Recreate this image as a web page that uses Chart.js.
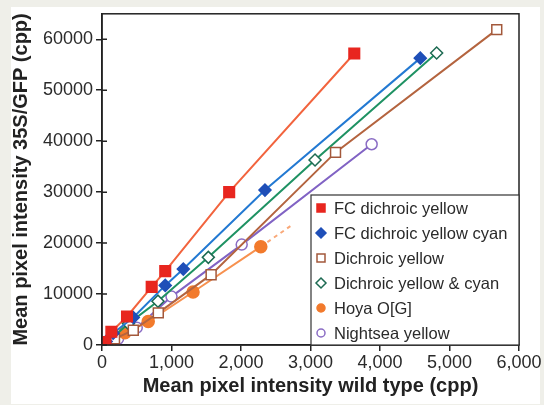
<!DOCTYPE html>
<html>
<head>
<meta charset="utf-8">
<script src="https://cdn.jsdelivr.net/npm/chart.js"></script>
<style>
    html, body { margin: 0; padding: 0; background: #efefe9; }
    #panel { position: absolute; left: 11px; top: 7px; width: 529px; height: 397px; background: #ffffff; }
    #wrap { position: absolute; left: 0; top: 0; width: 544px; height: 405px; }
</style>
</head>
<body>
<div id="panel"></div>
<div id="wrap"><canvas id="chart" width="544" height="405"></canvas></div>
<script>
// 데이터
const fcYellowX = [50, 135, 360, 715, 910, 1830, 3630];
const fcYellowY = [600, 2600, 5600, 11400, 14500, 30000, 57200];

const fcYellowCyanX = [60, 160, 450, 910, 1170, 2345, 4580];
const fcYellowCyanY = [700, 2300, 5400, 11700, 14900, 30400, 56300];

const dichroicYellowX = [50, 180, 450, 810, 1570, 3360, 5680];
const dichroicYellowY = [400, 1200, 2900, 6300, 13800, 37800, 61900];

const dichroicYCX = [40, 150, 380, 805, 1530, 3065, 4815];
const dichroicYCY = [400, 1400, 4200, 8600, 17200, 36300, 57300];

const hoyaX = [30, 120, 330, 665, 1310, 2285];
const hoyaY = [300, 900, 2400, 4600, 10400, 19300];
const hoyaTrendX = [2285, 2750];
const hoyaTrendY = [19300, 23700];

const nightseaX = [40, 230, 500, 1000, 2010, 3880];
const nightseaY = [300, 1200, 3400, 9500, 19700, 39400];

const xTicks = [0, 1000, 2000, 3000, 4000, 5000, 6000];
const yTicks = [0, 10000, 20000, 30000, 40000, 50000, 60000];

const toPoints = (xs, ys) => xs.map((x, i) => ({ x: x, y: ys[i] }));

const FONT = "'Liberation Sans', Arial, sans-serif";

function series(label, xs, ys, line, marker, fill, style, radius) {
    return {
        label: label,
        data: toPoints(xs, ys),
        showLine: true,
        borderColor: line,
        borderWidth: 2,
        pointStyle: style,
        pointRadius: radius,
        pointBorderColor: marker,
        pointBackgroundColor: fill,
        pointBorderWidth: 1.5,
        markerColor: marker,
        markerFill: fill
    };
}

const datasets = [
    series('FC dichroic yellow', fcYellowX, fcYellowY, '#f2643e', '#e8261f', '#e8261f', 'rect', 7.5),
    series('FC dichroic yellow cyan', fcYellowCyanX, fcYellowCyanY, '#2379d2', '#1f4fb8', '#1f4fb8', 'rectRot', 6),
    series('Dichroic yellow', dichroicYellowX, dichroicYellowY, '#b4643f', '#a3583b', '#ffffff', 'rect', 7),
    series('Dichroic yellow & cyan', dichroicYCX, dichroicYCY, '#1f9263', '#1d6a52', '#ffffff', 'rectRot', 6),
    series('Hoya O[G]', hoyaX, hoyaY, '#f7914f', '#f27a2c', '#f27a2c', 'circle', 6),
    series('Nightsea yellow', nightseaX, nightseaY, '#8163c4', '#8a6cc4', '#ffffff', 'circle', 5.5),
    {
        label: 'hoya trend',
        data: toPoints(hoyaTrendX, hoyaTrendY),
        showLine: true,
        borderColor: '#f9a878',
        borderWidth: 2,
        borderDash: [4, 4],
        pointRadius: 0,
        hideInLegend: true
    }
];

// 안쪽 눈금, 테두리, 범례
const decorPlugin = {
    id: 'decor',
    afterDraw(chart) {
        const ctx = chart.ctx;
        const a = chart.chartArea;
        const ys = chart.scales.y;
        ctx.save();
        ctx.strokeStyle = '#222';
        ctx.lineWidth = 1.5;
        ctx.strokeRect(a.left, a.top, a.right - a.left, a.bottom - a.top);
        ctx.beginPath();
        yTicks.forEach(v => {
            const p = ys.getPixelForValue(v);
            ctx.moveTo(a.left, p);
            ctx.lineTo(a.left + 5, p);
        });
        ctx.stroke();

        // 범례 박스
        const w = 208, h = 150;
        const lx = a.right - w, ly = a.bottom - h;
        ctx.fillStyle = '#ffffff';
        ctx.fillRect(lx, ly, w, h);
        ctx.strokeStyle = '#333';
        ctx.lineWidth = 1.2;
        ctx.strokeRect(lx, ly, w, h);
        ctx.font = '16.5px ' + FONT;
        ctx.textBaseline = 'middle';
        let row = 0;
        chart.data.datasets.forEach(ds => {
            if (ds.hideInLegend) return;
            const cx = lx + 10;
            const cy = ly + 13 + row * 25;
            ctx.fillStyle = ds.markerFill;
            ctx.strokeStyle = ds.markerColor;
            ctx.lineWidth = 1.5;
            ctx.beginPath();
            if (ds.pointStyle === 'circle') {
                ctx.arc(cx, cy, 4, 0, Math.PI * 2);
            } else if (ds.pointStyle === 'rect') {
                ctx.rect(cx - 4, cy - 4, 8, 8);
            } else {
                ctx.moveTo(cx, cy - 5);
                ctx.lineTo(cx + 5, cy);
                ctx.lineTo(cx, cy + 5);
                ctx.lineTo(cx - 5, cy);
                ctx.closePath();
            }
            ctx.fill();
            ctx.stroke();
            ctx.fillStyle = '#2a2a2a';
            ctx.fillText(ds.label, lx + 23, cy + 1);
            row++;
        });
        ctx.restore();
    }
};

new Chart(document.getElementById('chart'), {
    type: 'scatter',
    data: { datasets: datasets },
    options: {
        responsive: false,
        animation: false,
        layout: { padding: { left: 9, top: 7, right: 25, bottom: 7 } },
        plugins: {
            legend: { display: false },
            tooltip: { enabled: false }
        },
        scales: {
            x: {
                type: 'linear',
                min: 0,
                max: 6000,
                afterFit(scale) { scale.height = 53; },
                afterBuildTicks(scale) { scale.ticks = xTicks.map(v => ({ value: v })); },
                grid: { drawOnChartArea: false, tickLength: 6, color: '#222', lineWidth: 1.5 },
                border: { color: '#222', width: 1.5 },
                ticks: {
                    color: '#2a2a2a',
                    font: { family: FONT, size: 18 },
                    padding: 1,
                    maxRotation: 0,
                    callback: v => v.toLocaleString('en-US')
                },
                title: {
                    display: true,
                    text: 'Mean pixel intensity wild type (cpp)',
                    color: '#222',
                    font: { family: FONT, size: 20, weight: 'bold' },
                    padding: { top: 0, bottom: 0 }
                }
            },
            y: {
                type: 'linear',
                min: 0,
                max: 65000,
                afterFit(scale) { scale.width = 93; },
                afterBuildTicks(scale) { scale.ticks = yTicks.map(v => ({ value: v })); },
                grid: { drawOnChartArea: false, tickLength: 6, color: '#222', lineWidth: 1.5 },
                border: { color: '#222', width: 1.5 },
                ticks: {
                    color: '#2a2a2a',
                    font: { family: FONT, size: 18 },
                    padding: 3,
                    callback: v => String(v)
                },
                title: {
                    display: true,
                    text: 'Mean pixel intensity 35S/GFP (cpp)',
                    color: '#222',
                    font: { family: FONT, size: 20, weight: 'bold' },
                    padding: { top: 0, bottom: 2 }
                }
            }
        }
    },
    plugins: [decorPlugin]
});
</script>
</body>
</html>
